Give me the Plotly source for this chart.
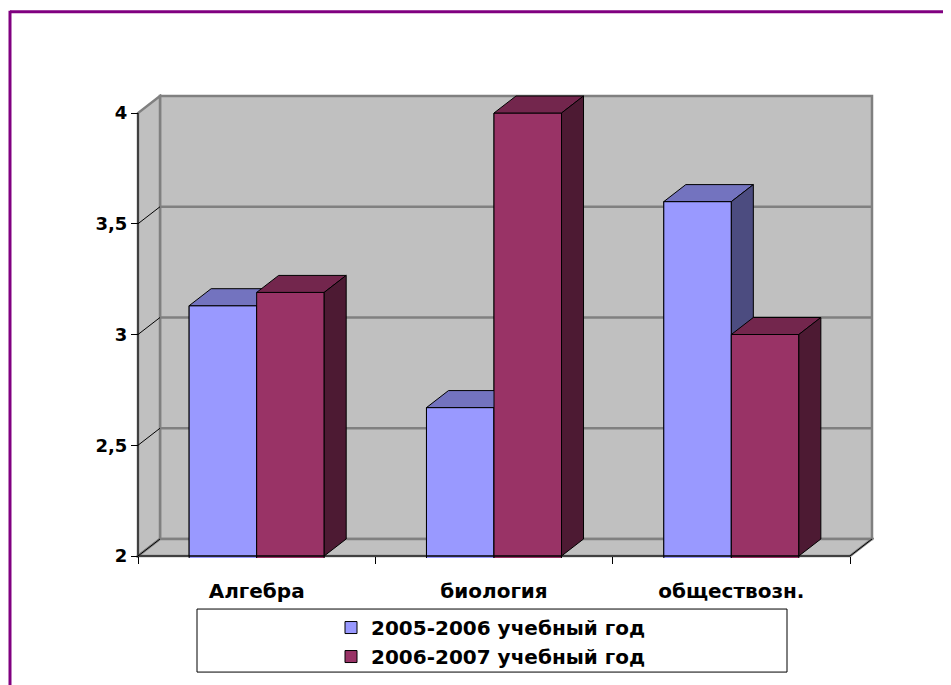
import plotly.graph_objects as go

# ---------------- data ----------------
categories = ["Алгебра", "биология", "обществозн."]
series_names = ["2005-2006 учебный год", "2006-2007 учебный год"]
values_2005 = [3.13, 2.67, 3.6]
values_2006 = [3.19, 4.0, 3.0]
y_tickvals = [2, 2.5, 3, 3.5, 4]
y_ticktext = ["2", "2,5", "3", "3,5", "4"]

# ---------------- style ----------------
front_colors = ["#9999FF", "#993366"]
top_colors = ["#7373BF", "#73264D"]
side_colors = ["#4C4C80", "#4D1A33"]
WALL = "#C0C0C0"
WALL_LINE = "#808080"
FONT = "DejaVu Sans"

PAGE_OFF = 8        # page body margin
W, H = 951 - PAGE_OFF, 685 - PAGE_OFF
U = 237.33          # px per category unit
V = 221.35          # px per value unit
DEPTH_X_PX, DEPTH_Y_PX = 22, 17
PAD = 2
LEFT_PX, BOTTOM_PX = 138 - PAGE_OFF, 556 - PAGE_OFF
DX = DEPTH_X_PX / U
DY = DEPTH_Y_PX / V
BW = 0.2845         # bar width in category units

YMIN, YMAX = y_tickvals[0], y_tickvals[-1]
x0 = -0.5
x1 = len(categories) - 0.5
xr = [x0 - PAD / U, x1 + DX + PAD / U]
yr = [YMIN - PAD / V, YMAX + DY + PAD / V]
plot_w = (xr[1] - xr[0]) * U
plot_h = (yr[1] - yr[0]) * V
ml = LEFT_PX - PAD
mb = H - BOTTOM_PX - PAD
mt = H - mb - plot_h
mr = W - ml - plot_w


def px_to_paper_x(px):
    return (px - PAGE_OFF - ml) / plot_w


def px_to_paper_y(py):
    return (H - mb - (py - PAGE_OFF)) / plot_h


fig = go.Figure()

# legend / base bars (front faces)
series = [values_2005, values_2006]
offsets = [-BW, 0.0]
for i, (name, vals) in enumerate(zip(series_names, series)):
    fig.add_trace(go.Bar(
        x=list(range(len(categories))), y=vals, name=name,
        width=BW, offset=offsets[i],
        marker=dict(color=front_colors[i], line=dict(color="#000000", width=1)),
        legendgroup=f"g{i}", hoverinfo="skip",
    ))

# pseudo-3D faces, drawn back-to-front
for c in range(len(categories)):
    for i, vals in enumerate(series):
        v = vals[c]
        xl = c + offsets[i]
        xrt = xl + BW
        faces = [
            ([xl, xrt, xrt, xl, xl], [YMIN, YMIN, v, v, YMIN], front_colors[i]),
            ([xl, xrt, xrt + DX, xl + DX, xl], [v, v, v + DY, v + DY, v], top_colors[i]),
            ([xrt, xrt + DX, xrt + DX, xrt, xrt], [YMIN, YMIN + DY, v + DY, v, YMIN], side_colors[i]),
        ]
        for fx, fy, col in faces:
            fig.add_trace(go.Scatter(
                x=fx, y=fy, mode="lines", fill="toself", fillcolor=col,
                line=dict(color="#000000", width=1), showlegend=False,
                hoverinfo="skip",
            ))

shapes = []
# back wall
shapes.append(dict(type="rect", xref="x", yref="y", x0=x0 + DX, x1=x1 + DX,
                   y0=YMIN + DY, y1=YMAX + DY, fillcolor=WALL,
                   line=dict(color=WALL_LINE, width=2.5), layer="below"))
# left wall
shapes.append(dict(type="path", xref="x", yref="y",
                   path=f"M{x0},{YMIN} L{x0},{YMAX} L{x0 + DX},{YMAX + DY} L{x0 + DX},{YMIN + DY} Z",
                   fillcolor=WALL, line=dict(color=WALL_LINE, width=2.5), layer="below"))
# floor
shapes.append(dict(type="path", xref="x", yref="y",
                   path=f"M{x0},{YMIN} L{x1},{YMIN} L{x1 + DX},{YMIN + DY} L{x0 + DX},{YMIN + DY} Z",
                   fillcolor=WALL, line=dict(color=WALL_LINE, width=2.5), layer="below"))
# back wall gridlines
for v in y_tickvals[1:-1]:
    shapes.append(dict(type="line", xref="x", yref="y", x0=x0 + DX, x1=x1 + DX,
                       y0=v + DY, y1=v + DY, line=dict(color=WALL_LINE, width=2.5),
                       layer="below"))
# left wall diagonals
for v in y_tickvals[:-1]:
    shapes.append(dict(type="line", xref="x", yref="y", x0=x0, x1=x0 + DX,
                       y0=v, y1=v + DY, line=dict(color="#000000", width=1),
                       layer="below"))
# front axis lines
shapes.append(dict(type="line", xref="x", yref="y", x0=x0, x1=x0, y0=YMIN, y1=YMAX,
                   line=dict(color="#000000", width=1), layer="above"))
shapes.append(dict(type="line", xref="x", yref="y", x0=x0, x1=x1, y0=YMIN, y1=YMIN,
                   line=dict(color="#000000", width=1.2), layer="above"))
shapes.append(dict(type="line", xref="x", yref="y", x0=x1, x1=x1 + DX, y0=YMIN, y1=YMIN + DY,
                   line=dict(color="#000000", width=1), layer="above"))
# legend box
shapes.append(dict(type="rect", xref="paper", yref="paper",
                   x0=px_to_paper_x(197), x1=px_to_paper_x(787),
                   y0=px_to_paper_y(672), y1=px_to_paper_y(609),
                   line=dict(color="#000000", width=1), fillcolor="rgba(0,0,0,0)"))
# outer purple frame (cropped slide border)
shapes.append(dict(type="line", xref="paper", yref="paper",
                   x0=px_to_paper_x(10), x1=px_to_paper_x(960),
                   y0=px_to_paper_y(12), y1=px_to_paper_y(12),
                   line=dict(color="#800080", width=3)))
shapes.append(dict(type="line", xref="paper", yref="paper",
                   x0=px_to_paper_x(10), x1=px_to_paper_x(10),
                   y0=px_to_paper_y(11), y1=px_to_paper_y(700),
                   line=dict(color="#800080", width=3)))

fig.update_layout(
    width=W, height=H, autosize=False,
    margin=dict(l=ml, r=mr, t=mt, b=mb, pad=0, autoexpand=False),
    paper_bgcolor="#FFFFFF", plot_bgcolor="rgba(0,0,0,0)",
    barmode="overlay",
    shapes=shapes,
    showlegend=True,
    legend=dict(
        x=px_to_paper_x(491), xanchor="center",
        y=px_to_paper_y(608), yanchor="top",
        bgcolor="rgba(0,0,0,0)", borderwidth=0,
        font=dict(family=FONT, size=20, color="#000000", weight="bold"),
        traceorder="grouped", tracegroupgap=0,
    ),
    xaxis=dict(
        range=xr, tickmode="array", tickvals=list(range(len(categories))),
        ticktext=categories, showgrid=False, zeroline=False, showline=False,
        ticks="", tickfont=dict(family=FONT, size=20, color="#000000", weight="bold"),
        ticklabelstandoff=19, fixedrange=True,
    ),
    xaxis2=dict(
        range=xr, overlaying="x", anchor="free", position=PAD / plot_h,
        side="bottom", tickmode="array",
        tickvals=[x0 + k for k in range(len(categories) + 1)],
        showticklabels=False, ticks="outside", ticklen=7, tickcolor="#000000",
        tickwidth=1, showgrid=False, zeroline=False, showline=False,
    ),
    yaxis=dict(
        range=yr, tickmode="array", tickvals=y_tickvals, ticktext=y_ticktext,
        anchor="free", position=PAD / plot_w,
        showgrid=False, zeroline=False, showline=False,
        ticks="outside", ticklen=7, tickcolor="#000000", tickwidth=1,
        tickfont=dict(family=FONT, size=18, color="#000000", weight="bold"),
        fixedrange=True,
    ),
)
# invisible trace on xaxis2 so its ticks render
fig.add_trace(go.Scatter(x=[x0], y=[YMIN], xaxis="x2", mode="markers",
                         marker=dict(opacity=0), showlegend=False, hoverinfo="skip"))

fig.write_html("out.html")
